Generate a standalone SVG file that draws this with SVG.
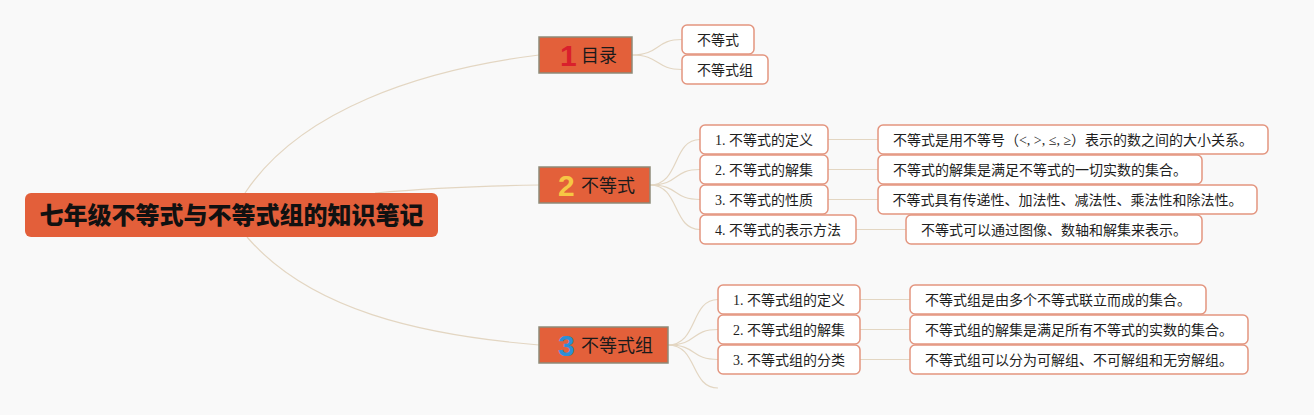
<svg xmlns="http://www.w3.org/2000/svg" width="1314" height="415" viewBox="0 0 1314 415">
<style>
.bg{fill:#f9f9f9}
.root{fill:#e35f3a}
.rt{font-family:"Noto Sans CJK SC","Liberation Sans",sans-serif;font-weight:900;font-size:24px;fill:#111}
.br{fill:#e3603a;stroke:#8e8a78;stroke-width:1.5}
.bt{font-family:"Noto Sans CJK SC","Liberation Sans",sans-serif;font-size:18px;fill:#1a1a1a}
.num{font-family:"Liberation Sans","Noto Sans",sans-serif;font-weight:bold;font-size:30px}
.lf{fill:#ffffff;stroke:#e3957f;stroke-width:1.5}
.lt{font-family:"Liberation Serif","Noto Sans CJK SC",serif;font-size:14px;fill:#1e1e1e;text-anchor:middle}
.c{fill:none;stroke:#e3d6c2;stroke-width:1.2}
</style>
<rect class="bg" x="0" y="0" width="1314" height="415"/>
<g id="connectors">
<path class="c" d="M245,193 C300,110 420,70 539,55"/>
<path class="c" d="M375,193 C430,188 480,186 539,185"/>
<path class="c" d="M247,237 C310,310 420,335 539,345"/>
<path class="c" d="M632,55 C660,55 655,39.5 682,39.5"/>
<path class="c" d="M632,55 C660,55 655,69.5 682,69.5"/>
<path class="c" d="M650,185 C680,185 672,139.5 700,139.5"/>
<path class="c" d="M650,185 C680,185 672,169.5 700,169.5"/>
<path class="c" d="M650,185 C680,185 672,199.5 700,199.5"/>
<path class="c" d="M650,185 C680,185 672,229.5 700,229.5"/>
<path class="c" d="M668,345 C698,345 690,299.5 718,299.5"/>
<path class="c" d="M668,345 C698,345 690,329.5 718,329.5"/>
<path class="c" d="M668,345 C698,345 690,359.5 718,359.5"/>
<path class="c" d="M668,345 C698,345 690,388 718,388"/>
<line class="c" x1="828" y1="139.5" x2="878" y2="139.5"/>
<line class="c" x1="828" y1="169.5" x2="878" y2="169.5"/>
<line class="c" x1="828" y1="199.5" x2="878" y2="199.5"/>
<line class="c" x1="856" y1="229.5" x2="906" y2="229.5"/>
<line class="c" x1="860" y1="299.5" x2="910" y2="299.5"/>
<line class="c" x1="860" y1="329.5" x2="910" y2="329.5"/>
<line class="c" x1="860" y1="359.5" x2="910" y2="359.5"/>
</g>
<g id="root">
<rect class="root" x="25" y="193" width="413" height="44" rx="6"/>
<text class="rt" x="231.5" y="223.5" text-anchor="middle">七年级不等式与不等式组的知识笔记</text>
</g>
<g id="b1">
<rect class="br" x="539" y="37" width="93" height="36"/>
<text class="num" x="560" y="66" fill="#d9202c">1</text>
<text class="bt" x="581" y="62">目录</text>
</g>
<g id="b2">
<rect class="br" x="539" y="167" width="111" height="36"/>
<text class="num" x="558" y="196" fill="#f6c744">2</text>
<text class="bt" x="581" y="192">不等式</text>
</g>
<g id="b3">
<rect class="br" x="539" y="327" width="129" height="36"/>
<text class="num" x="558" y="356" fill="#2d8fd6">3</text>
<text class="bt" x="581" y="352">不等式组</text>
</g>
<g id="l1a"><rect class="lf" x="682" y="25" width="72" height="29" rx="5"/><text class="lt" x="718" y="44.5">不等式</text></g>
<g id="l1b"><rect class="lf" x="682" y="55" width="86" height="29" rx="5"/><text class="lt" x="725" y="74.5">不等式组</text></g>
<g id="l2a"><rect class="lf" x="700" y="125" width="128" height="29" rx="5"/><text class="lt" x="764" y="144.5">1. 不等式的定义</text></g>
<g id="l2b"><rect class="lf" x="700" y="155" width="128" height="29" rx="5"/><text class="lt" x="764" y="174.5">2. 不等式的解集</text></g>
<g id="l2c"><rect class="lf" x="700" y="185" width="128" height="29" rx="5"/><text class="lt" x="764" y="204.5">3. 不等式的性质</text></g>
<g id="l2d"><rect class="lf" x="700" y="215" width="156" height="29" rx="5"/><text class="lt" x="778" y="234.5">4. 不等式的表示方法</text></g>
<g id="d2a"><rect class="lf" x="878" y="125" width="390" height="29" rx="5"/><text class="lt" x="1073" y="144.5">不等式是用不等号（&lt;, &gt;, ≤, ≥）表示的数之间的大小关系。</text></g>
<g id="d2b"><rect class="lf" x="878" y="155" width="324" height="29" rx="5"/><text class="lt" x="1040" y="174.5">不等式的解集是满足不等式的一切实数的集合。</text></g>
<g id="d2c"><rect class="lf" x="878" y="185" width="379" height="29" rx="5"/><text class="lt" x="1067.5" y="204.5">不等式具有传递性、加法性、减法性、乘法性和除法性。</text></g>
<g id="d2d"><rect class="lf" x="906" y="215" width="296" height="29" rx="5"/><text class="lt" x="1054" y="234.5">不等式可以通过图像、数轴和解集来表示。</text></g>
<g id="l3a"><rect class="lf" x="718" y="285" width="142" height="29" rx="5"/><text class="lt" x="789" y="304.5">1. 不等式组的定义</text></g>
<g id="l3b"><rect class="lf" x="718" y="315" width="142" height="29" rx="5"/><text class="lt" x="789" y="334.5">2. 不等式组的解集</text></g>
<g id="l3c"><rect class="lf" x="718" y="345" width="142" height="29" rx="5"/><text class="lt" x="789" y="364.5">3. 不等式组的分类</text></g>
<g id="d3a"><rect class="lf" x="910" y="285" width="296" height="29" rx="5"/><text class="lt" x="1058" y="304.5">不等式组是由多个不等式联立而成的集合。</text></g>
<g id="d3b"><rect class="lf" x="910" y="315" width="338" height="29" rx="5"/><text class="lt" x="1079" y="334.5">不等式组的解集是满足所有不等式的实数的集合。</text></g>
<g id="d3c"><rect class="lf" x="910" y="345" width="338" height="29" rx="5"/><text class="lt" x="1079" y="364.5">不等式组可以分为可解组、不可解组和无穷解组。</text></g>
</svg>
